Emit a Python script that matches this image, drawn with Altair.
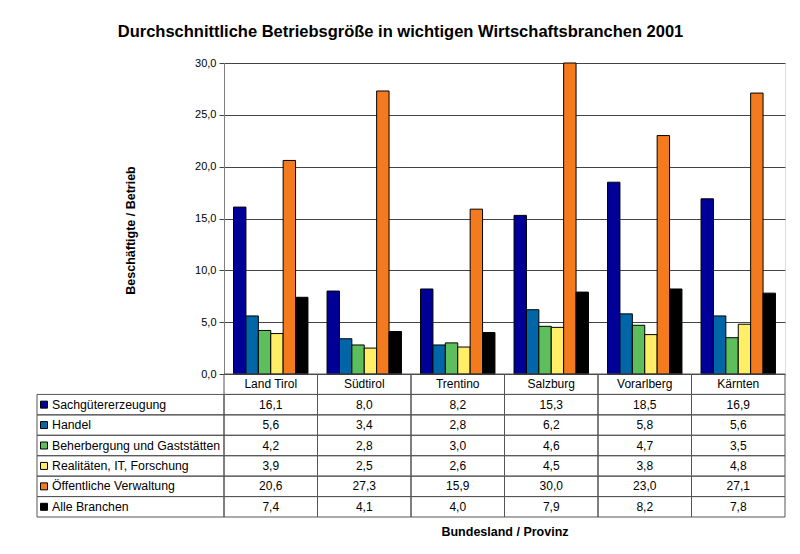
import altair as alt
import pandas as pd

categories = ["Land Tirol", "Südtirol", "Trentino", "Salzburg", "Vorarlberg", "Kärnten"]
series = ["Sachgütererzeugung", "Handel", "Beherbergung und Gaststätten",
          "Realitäten, IT, Forschung", "Öffentliche Verwaltung", "Alle Branchen"]
sachgueter = [16.1, 8.0, 8.2, 15.3, 18.5, 16.9]
handel = [5.6, 3.4, 2.8, 6.2, 5.8, 5.6]
beherbergung = [4.2, 2.8, 3.0, 4.6, 4.7, 3.5]
realitaeten = [3.9, 2.5, 2.6, 4.5, 3.8, 4.8]
oeffentlich = [20.6, 27.3, 15.9, 30.0, 23.0, 27.1]
alle = [7.4, 4.1, 4.0, 7.9, 8.2, 7.8]
colors = ["#000099", "#0066a8", "#5cbf5c", "#ffee66", "#f47a1e", "#000000"]

values = [sachgueter, handel, beherbergung, realitaeten, oeffentlich, alle]

FONT = "Liberation Sans"
W, H = 561, 311

bars_rows = []
for j, s in enumerate(series):
    for i, c in enumerate(categories):
        bars_rows.append({"cat": c, "series": s, "value": values[j][i]})
bars_df = pd.DataFrame(bars_rows)

def fmt(v):
    return f"{v:.1f}".replace(".", ",")

tab_rows = []
for i, c in enumerate(categories):
    tab_rows.append({"kind": "head", "c0": i, "c1": i + 1, "r0": 0, "r1": 1, "text": c, "series": None})
for j, s in enumerate(series):
    tab_rows.append({"kind": "label", "c0": -2, "c1": 0, "r0": j + 1, "r1": j + 2, "text": s, "series": s})
    for i, c in enumerate(categories):
        tab_rows.append({"kind": "val", "c0": i, "c1": i + 1, "r0": j + 1, "r1": j + 2,
                         "text": fmt(values[j][i]), "series": s})
tab_df = pd.DataFrame(tab_rows)
tab_df["xm"] = (tab_df["c0"] + tab_df["c1"]) / 2
tab_df["ym"] = (tab_df["r0"] + tab_df["r1"]) / 2

color_scale = alt.Scale(domain=series, range=colors)

bars = alt.Chart(bars_df).mark_bar(stroke="black", strokeWidth=1).encode(
    x=alt.X("cat:N", sort=categories,
            scale=alt.Scale(domain=categories, paddingInner=0.204, paddingOuter=0.102),
            axis=alt.Axis(title="Bundesland / Provinz", labels=False, ticks=False, domain=False,
                          titleFont=FONT, titleFontSize=12.5, titleFontWeight="bold",
                          titleColor="black", titleY=151, titleBaseline="top")),
    xOffset=alt.XOffset("series:N", sort=series, scale=alt.Scale(domain=series, paddingInner=0, paddingOuter=0)),
    y=alt.Y("value:Q", scale=alt.Scale(domain=[0, 30], nice=False, zero=True),
            axis=alt.Axis(values=[0, 5, 10, 15, 20, 25, 30],
                          labelExpr="replace(format(datum.value, '.1f'), '.', ',')",
                          title="Beschäftigte / Betrieb", titleFont=FONT, titleFontSize=12.5,
                          titleFontWeight="bold", titleColor="black",
                          titleAngle=270, titleBaseline="middle", titleAlign="center",
                          titleX=-94, titleY=167,
                          labelFont=FONT, labelFontSize=11, labelColor="black", labelPadding=3,
                          tickSize=5, tickColor="#444", domainColor="#808080",
                          gridColor="#444", grid=True)),
    color=alt.Color("series:N", scale=color_scale, legend=None),
)

tx = alt.Scale(domain=[-2, 6], range=[-187, W], nice=False, zero=False)
ty = alt.Scale(domain=[0, 7], range=[H, H + 143], nice=False, zero=False)

base = alt.Chart(tab_df)
cells = base.mark_rect(fillOpacity=0, stroke="#555", strokeWidth=1).encode(
    x=alt.X("c0:Q", scale=tx, axis=None), x2="c1:Q",
    y=alt.Y("r0:Q", scale=ty, axis=None), y2="r1:Q",
)
center_text = base.transform_filter("datum.kind != 'label'").mark_text(
    font=FONT, fontSize=12, color="black", align="center", baseline="middle"
).encode(
    x=alt.X("xm:Q", scale=tx, axis=None),
    y=alt.Y("ym:Q", scale=ty, axis=None),
    text="text:N",
)
label_text = base.transform_filter("datum.kind == 'label'").mark_text(
    font=FONT, fontSize=12.3, color="black", align="left", baseline="middle", dx=15
).encode(
    x=alt.X("c0:Q", scale=tx, axis=None),
    y=alt.Y("ym:Q", scale=ty, axis=None),
    text="text:N",
)
keys = base.transform_filter("datum.kind == 'label'").mark_square(
    size=49, stroke="black", strokeWidth=1, opacity=1, filled=True, xOffset=7
).encode(
    x=alt.X("c0:Q", scale=tx, axis=None),
    y=alt.Y("ym:Q", scale=ty, axis=None),
    color=alt.Color("series:N", scale=color_scale, legend=None),
)

table = alt.layer(cells, center_text, label_text, keys)

chart = alt.layer(bars, table).resolve_scale(x="independent", y="independent").properties(
    width=W, height=H,
    autosize=alt.AutoSizeParams(type="none"),
    padding={"left": 216, "top": 55, "right": 7, "bottom": 180},
    title=alt.TitleParams(
        "Durchschnittliche Betriebsgröße in wichtigen Wirtschaftsbranchen 2001",
        font=FONT, fontSize=16.5, fontWeight="bold", color="black",
        anchor="middle", dx=-104, offset=17,
    ),
).configure_view(stroke="#808080").configure(background="white")

chart.save("out.html", embed_options={"renderer": "svg", "actions": False})
